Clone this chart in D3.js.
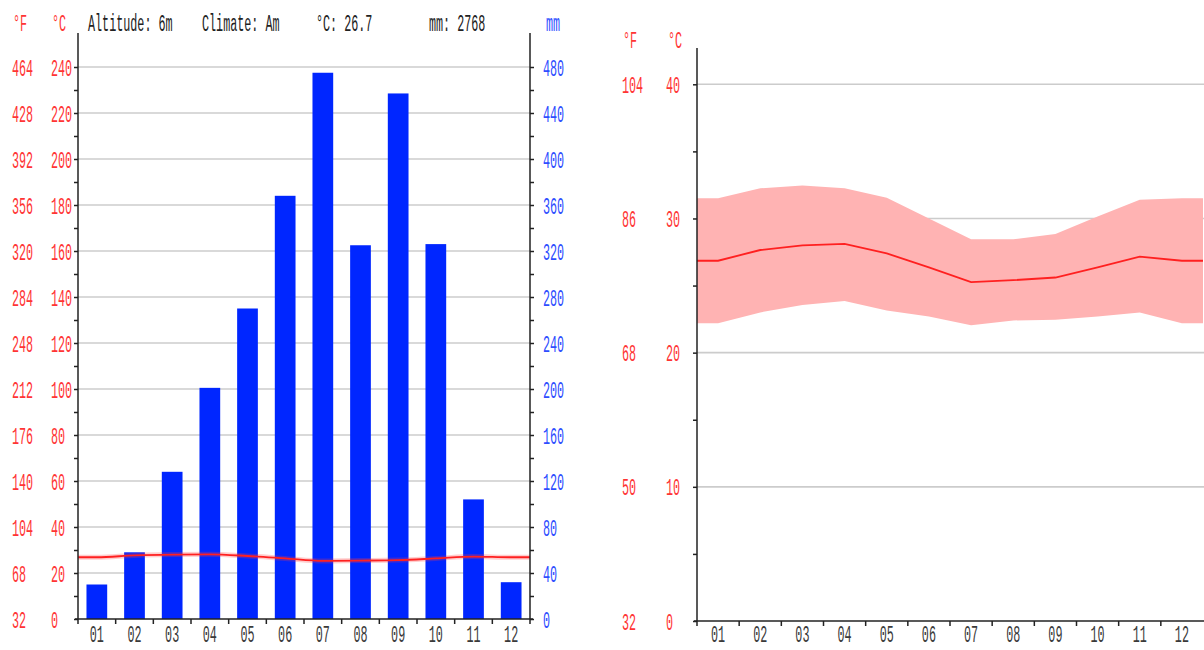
<!DOCTYPE html>
<html>
<head>
<meta charset="utf-8">
<script src="https://cdn.jsdelivr.net/npm/d3@7"></script>
<style>
  html, body { margin: 0; padding: 0; background: #fff; }
  svg { display: block; }
</style>
</head>
<body>
<svg id="chart" width="1204" height="650"></svg>
<script>
// Climate data, month by month
const months = ["01","02","03","04","05","06","07","08","09","10","11","12"];
const precipMm = [30, 58, 128, 201, 270, 368, 475, 325, 457, 326, 104, 32];
const tempMean = [26.85, 27.65, 28.0, 28.1, 27.4, 26.35, 25.25, 25.4, 25.6, 26.35, 27.15, 26.85];
const tempMax  = [31.5, 32.25, 32.45, 32.25, 31.55, 30.0, 28.45, 28.45, 28.85, 30.15, 31.4, 31.5];
const tempMin  = [22.2, 23.0, 23.55, 23.85, 23.15, 22.7, 22.05, 22.4, 22.45, 22.7, 23.0, 22.2];

// Tick labels
const leftCelsius = [0, 20, 40, 60, 80, 100, 120, 140, 160, 180, 200, 220, 240];
const leftFahrenheit = [32, 68, 104, 140, 176, 212, 248, 284, 320, 356, 392, 428, 464];
const leftMm = [0, 40, 80, 120, 160, 200, 240, 280, 320, 360, 400, 440, 480];
const rightCelsius = [0, 10, 20, 30, 40];
const rightFahrenheit = [32, 50, 68, 86, 104];

// Header texts
const headerItems = ["Altitude: 6m", "Climate: Am", "°C: 26.7", "mm: 2768"];

const RED = "#ff3434";
const BLUE = "#2e4dff";
const BAR = "#0026ff";
const BAND = "#ffb3b3";
const GRID = "#cccccc";
const INK = "#222";
const FONT = "Liberation Mono, DejaVu Sans Mono, monospace";
const FS = 24;
const SX = 0.49;

const svg = d3.select("#chart");

function label(g, x, y, text, color, anchor, dy) {
  return g.append("text")
    .attr("transform", `translate(${x},${y}) scale(${SX},1)`)
    .attr("text-anchor", anchor || "start")
    .attr("dy", dy || 0)
    .attr("font-family", FONT)
    .attr("font-size", FS)
    .attr("fill", color)
    .text(text);
}

/* ---------------- Left: climograph ---------------- */
const L = { left: 78, right: 530, top: 33, bottom: 619, yTop: 67 };
const xL = d3.scaleBand().domain(months).range([L.left, L.right])
  .paddingInner(0.45).paddingOuter(0.225);
const xLedges = d3.scaleBand().domain(months).range([L.left, L.right]);
const yMm = d3.scaleLinear().domain([0, 480]).range([L.bottom, L.yTop]);
const yC = d3.scaleLinear().domain([0, 240]).range([L.bottom, L.yTop]);

const gl = svg.append("g");

// grid
gl.append("g").selectAll("line").data(leftCelsius.filter(d => d > 0)).join("line")
  .attr("x1", L.left).attr("x2", L.right)
  .attr("y1", d => yC(d)).attr("y2", d => yC(d))
  .attr("stroke", GRID).attr("stroke-width", 1.6);

// bars
gl.append("g").selectAll("rect").data(months).join("rect")
  .attr("x", d => xL(d))
  .attr("width", xL.bandwidth())
  .attr("y", (d, i) => yMm(precipMm[i]))
  .attr("height", (d, i) => yMm(0) - yMm(precipMm[i]))
  .attr("fill", BAR);

// mean temperature curve
const edgeMean = (tempMean[0] + tempMean[11]) / 2;
const leftPts = [[L.left, edgeMean]]
  .concat(months.map((m, i) => [xLedges(m) + xLedges.bandwidth() / 2, tempMean[i]]))
  .concat([[L.right, edgeMean]]);
const lineL = d3.line().x(d => d[0]).y(d => yC(d[1])).curve(d3.curveMonotoneX);
gl.append("path").attr("d", lineL(leftPts)).attr("fill", "none")
  .attr("stroke", "rgba(255,60,60,0.25)").attr("stroke-width", 5);
gl.append("path").attr("d", lineL(leftPts)).attr("fill", "none")
  .attr("stroke", "#ff2020").attr("stroke-width", 1.8);

// axes
const axLeft = d3.axisLeft(yC).tickValues(d3.range(0, 241, 10)).tickSize(4).tickFormat("");
gl.append("g").attr("transform", `translate(${L.left},0)`).call(axLeft)
  .call(g => g.select(".domain").remove())
  .call(g => g.selectAll(".tick line").attr("stroke", INK).attr("stroke-width", 1.5));
gl.append("line").attr("x1", L.left).attr("x2", L.left).attr("y1", L.top).attr("y2", L.bottom + 5)
  .attr("stroke", INK).attr("stroke-width", 1.5);

const axRight = d3.axisRight(yMm).tickValues(d3.range(0, 481, 20)).tickSize(4).tickFormat("");
gl.append("g").attr("transform", `translate(${L.right},0)`).call(axRight)
  .call(g => g.select(".domain").remove())
  .call(g => g.selectAll(".tick line").attr("stroke", INK).attr("stroke-width", 1.5));
gl.append("line").attr("x1", L.right).attr("x2", L.right).attr("y1", L.top).attr("y2", L.bottom + 5)
  .attr("stroke", INK).attr("stroke-width", 1.5);

gl.append("line").attr("x1", L.left - 3).attr("x2", L.right + 3).attr("y1", L.bottom).attr("y2", L.bottom)
  .attr("stroke", INK).attr("stroke-width", 1.5);
gl.append("g").selectAll("line").data(months.slice(1)).join("line")
  .attr("x1", d => xLedges(d)).attr("x2", d => xLedges(d))
  .attr("y1", L.bottom).attr("y2", L.bottom + 5)
  .attr("stroke", INK).attr("stroke-width", 1.5);

// tick labels
leftCelsius.forEach((c, i) => {
  label(gl, 12, yC(c), leftFahrenheit[i], RED, "start", "0.36em");
  label(gl, 51, yC(c), c, RED, "start", "0.36em");
});
leftMm.forEach(v => label(gl, 543, yMm(v), v, BLUE, "start", "0.36em"));
months.forEach(m => label(gl, xLedges(m) + xLedges.bandwidth() / 2, 642, m, "#3a3a3a", "middle"));

// header
label(gl, 13, 31, "°F", RED);
label(gl, 52, 31, "°C", RED);
const headerX = [88, 202, 316, 429];
headerItems.forEach((t, i) => label(gl, headerX[i], 31, t, INK));
label(gl, 546, 31, "mm", BLUE);

/* ---------------- Right: temperature range ---------------- */
const R = { left: 697, right: 1203, top: 48, bottom: 621 };
const xR = d3.scaleBand().domain(months).range([R.left, R.right]);
const yT = d3.scaleLinear().domain([0, 40]).range([R.bottom, 84.3]);

const gr = svg.append("g");

gr.append("g").selectAll("line").data(rightCelsius.filter(d => d > 0)).join("line")
  .attr("x1", R.left).attr("x2", 1204)
  .attr("y1", d => yT(d)).attr("y2", d => yT(d))
  .attr("stroke", GRID).attr("stroke-width", 1.6);

const edge = arr => (arr[0] + arr[11]) / 2;
const rangeRows = [{ x: R.left, lo: edge(tempMin), hi: edge(tempMax), m: edge(tempMean) }]
  .concat(months.map((mo, i) => ({ x: xR(mo) + xR.bandwidth() / 2, lo: tempMin[i], hi: tempMax[i], m: tempMean[i] })))
  .concat([{ x: R.right, lo: edge(tempMin), hi: edge(tempMax), m: edge(tempMean) }]);

gr.append("path")
  .attr("d", d3.area().x(d => d.x).y0(d => yT(d.lo)).y1(d => yT(d.hi))(rangeRows))
  .attr("fill", BAND);
gr.append("path")
  .attr("d", d3.line().x(d => d.x).y(d => yT(d.m))(rangeRows))
  .attr("fill", "none").attr("stroke", "#ff2020").attr("stroke-width", 1.8);

const axT = d3.axisLeft(yT).tickValues(d3.range(0, 41, 5)).tickSize(4).tickFormat("");
gr.append("g").attr("transform", `translate(${R.left},0)`).call(axT)
  .call(g => g.select(".domain").remove())
  .call(g => g.selectAll(".tick line").attr("stroke", INK).attr("stroke-width", 1.5));
gr.append("line").attr("x1", R.left).attr("x2", R.left).attr("y1", R.top).attr("y2", R.bottom + 5)
  .attr("stroke", INK).attr("stroke-width", 1.5);
gr.append("line").attr("x1", R.left - 3).attr("x2", 1204).attr("y1", R.bottom).attr("y2", R.bottom)
  .attr("stroke", INK).attr("stroke-width", 1.5);
gr.append("g").selectAll("line").data(months.slice(1)).join("line")
  .attr("x1", d => xR(d)).attr("x2", d => xR(d))
  .attr("y1", R.bottom).attr("y2", R.bottom + 5)
  .attr("stroke", INK).attr("stroke-width", 1.5);

rightCelsius.forEach((c, i) => {
  label(gr, 622, yT(c), rightFahrenheit[i], RED, "start", "0.36em");
  label(gr, 666, yT(c), c, RED, "start", "0.36em");
});
months.forEach(m => label(gr, xR(m) + xR.bandwidth() / 2, 642, m, "#3a3a3a", "middle"));
label(gr, 623, 48, "°F", RED);
label(gr, 668, 48, "°C", RED);
</script>
</body>
</html>
